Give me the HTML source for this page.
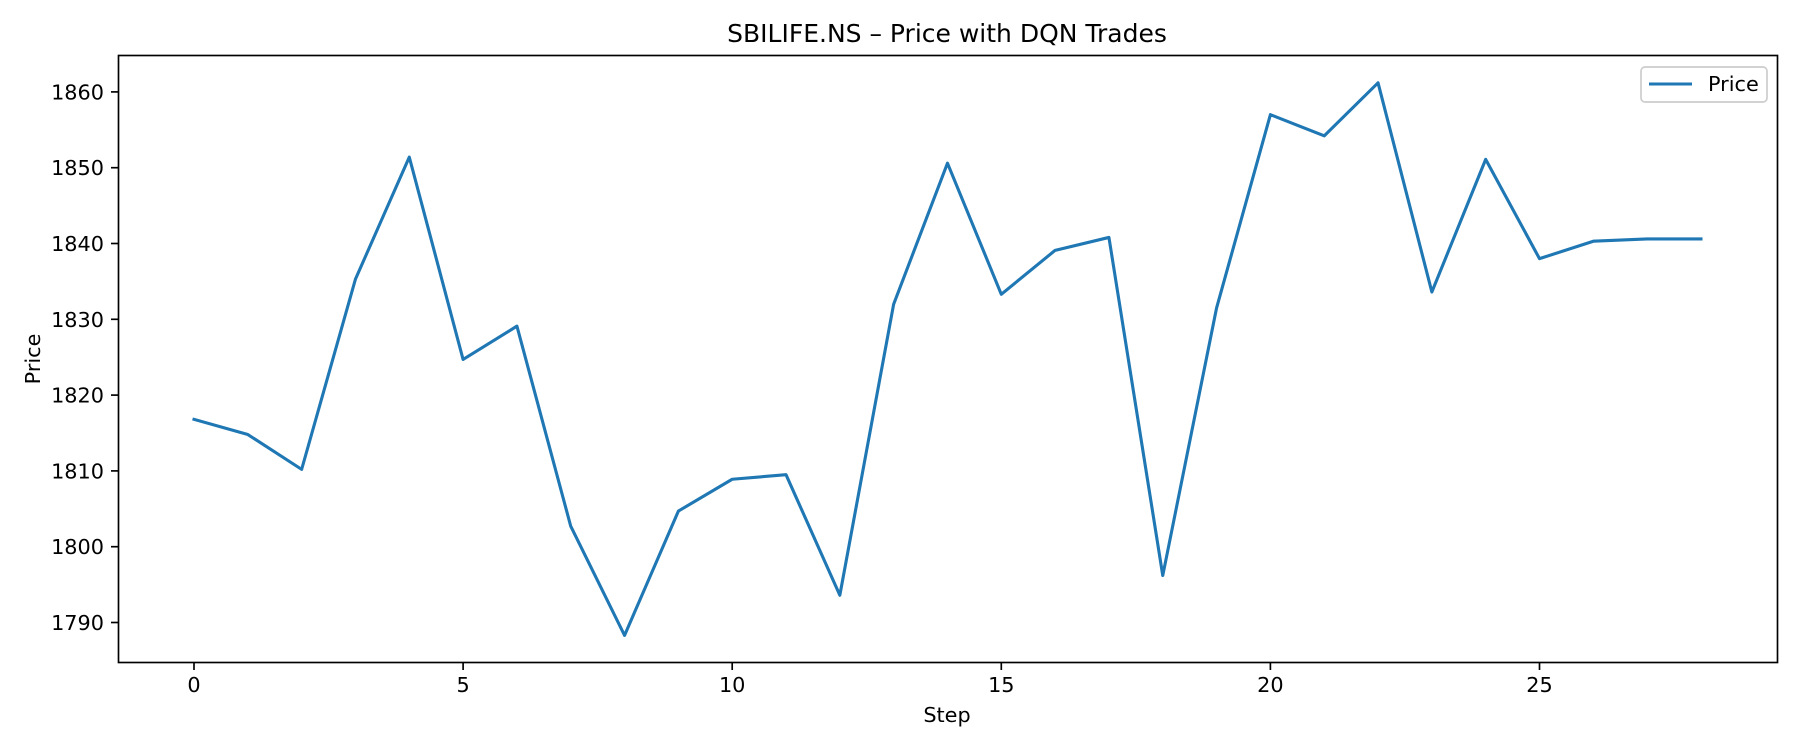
<!DOCTYPE html>
<html><head><meta charset="utf-8"><style>
html,body{margin:0;padding:0;background:#fff;}
svg{display:block;font-family:"DejaVu Sans","Liberation Sans",sans-serif;}
</style></head><body>
<svg id="chart" width="1800" height="750" viewBox="0 0 1800 750">
<rect width="1800" height="750" fill="#fff"/>
<text x="947" y="42" font-size="25" text-anchor="middle" fill="#000">SBILIFE.NS – Price with DQN Trades</text>
<g id="yticks"></g>
<g id="xticks"></g>
<polyline id="line" fill="none" stroke="#1f77b4" stroke-width="3.1" stroke-linejoin="round" stroke-linecap="square"/>
<rect x="118.5" y="55.5" width="1659" height="607" fill="none" stroke="#000" stroke-width="1.67"/>
<text x="947" y="722" font-size="20.8" text-anchor="middle">Step</text>
<text transform="translate(40,359) rotate(-90)" font-size="20.8" text-anchor="middle">Price</text>
<g>
<rect x="1641" y="67" width="126" height="35" rx="4" fill="#fff" stroke="#ccc" stroke-width="1.67"/>
<line x1="1649" y1="84" x2="1692" y2="84" stroke="#1f77b4" stroke-width="3.1"/>
<text x="1708" y="91" font-size="20.8">Price</text>
</g>
</svg>
<script>
const steps=[0,1,2,3,4,5,6,7,8,9,10,11,12,13,14,15,16,17,18,19,20,21,22,23,24,25,26,27,28];
const prices=[1816.8,1814.8,1810.2,1835.3,1851.4,1824.7,1829.1,1802.7,1788.3,1804.7,1808.9,1809.5,1793.6,1832.0,1850.6,1833.3,1839.1,1840.8,1796.2,1831.5,1857.0,1854.2,1861.2,1833.6,1851.1,1838.0,1840.3,1840.6,1840.6];
const yTicks=[1790,1800,1810,1820,1830,1840,1850,1860];
const xTicks=[0,5,10,15,20,25];
const NS="http://www.w3.org/2000/svg";
function xs(v){return 194+v*53.82;}
function ys(v){return 91.9+(1860-v)*7.58;}
const line=document.getElementById('line');
line.setAttribute('points',steps.map((s,i)=>xs(s)+','+ys(prices[i])).join(' '));
const yg=document.getElementById('yticks');
yTicks.forEach(t=>{
 const l=document.createElementNS(NS,'line');
 l.setAttribute('x1',111);l.setAttribute('x2',118.5);l.setAttribute('y1',ys(t));l.setAttribute('y2',ys(t));
 l.setAttribute('stroke','#000');l.setAttribute('stroke-width','1.67');
 
 
 yg.appendChild(l);
 const tx=document.createElementNS(NS,'text');
 tx.setAttribute('x',104);tx.setAttribute('y',ys(t)+7.5);tx.setAttribute('text-anchor','end');tx.setAttribute('font-size','20.8');
 tx.textContent=t;
 
 
 yg.appendChild(tx);
});
const xg=document.getElementById('xticks');
xTicks.forEach(t=>{
 const l=document.createElementNS(NS,'line');
 l.setAttribute('x1',xs(t));l.setAttribute('x2',xs(t));l.setAttribute('y1',662.5);l.setAttribute('y2',670);
 l.setAttribute('stroke','#000');l.setAttribute('stroke-width','1.67');
 
 
 xg.appendChild(l);
 const tx=document.createElementNS(NS,'text');
 tx.setAttribute('x',xs(t));tx.setAttribute('y',692);tx.setAttribute('text-anchor','middle');tx.setAttribute('font-size','20.8');
 tx.textContent=t;
 
 
 xg.appendChild(tx);
});
</script>
</body></html>
